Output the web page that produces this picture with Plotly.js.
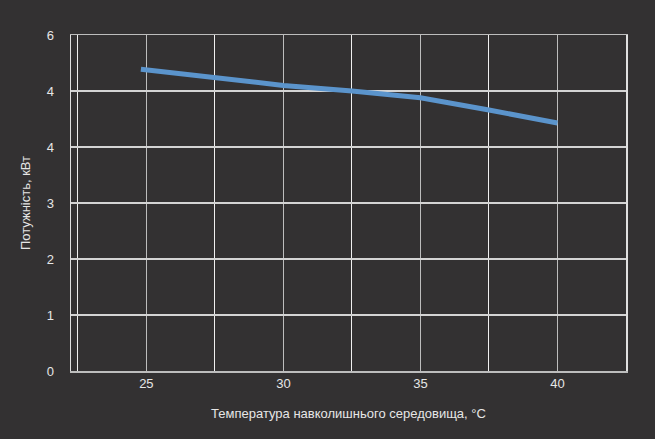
<!DOCTYPE html>
<html>
<head>
<meta charset="utf-8">
<script src="https://cdn.plot.ly/plotly-3.0.1.min.js"></script>
<style>
  html, body { margin: 0; padding: 0; background: #333132; }
  #chart { width: 655px; height: 439px; }
</style>
</head>
<body>
<div id="chart"></div>
<script>
'use strict';

// ambient temperature, °C
const temps = [24.8, 27.5, 30, 32.5, 35, 37.5, 40];
// power, kW
const power = [5.39, 5.24, 5.10, 5.00, 4.88, 4.66, 4.43];

const yTicks = [0, 1, 2, 3, 4, 5, 6];
const yLabels = ['0', '1', '2', '3', '4', '4', '6'];

const textColor = '#e6e6e6';
const font = { family: 'Liberation Sans, Arial, sans-serif', size: 13, color: textColor };

const trace = {
	x: temps,
	y: power,
	type: 'scatter',
	mode: 'lines',
	line: { color: '#5b94cc', width: 5 },
	hoverinfo: 'x+y'
};

const layout = {
	width: 655,
	height: 439,
	paper_bgcolor: '#333132',
	plot_bgcolor: '#333132',
	font: font,
	showlegend: false,
	margin: { l: 71, r: 29, t: 35, b: 68 },
	xaxis: {
		range: [22.25, 42.5],
		tick0: 25,
		dtick: 5,
		ticks: '',
		showgrid: true,
		gridcolor: '#bdbdbd',
		gridwidth: 1.5,
		minor: { dtick: 2.5, tick0: 25, showgrid: true, gridcolor: '#f0f0f0', gridwidth: 1 },
		showline: true,
		mirror: true,
		linecolor: '#bdbdbd',
		linewidth: 1.5,
		zeroline: false,
		tickfont: font,
		title: { text: 'Температура навколишнього середовища, °C', font: font, standoff: 19 }
	},
	yaxis: {
		range: [0, 6],
		tickvals: yTicks,
		ticktext: yLabels,
		ticks: 'outside',
		ticklen: 13,
		tickcolor: 'rgba(0,0,0,0)',
		showgrid: true,
		gridcolor: '#d4d4d4',
		gridwidth: 1.5,
		showline: true,
		mirror: true,
		linecolor: '#e0e0e0',
		linewidth: 1.5,
		zeroline: true,
		zerolinecolor: '#f4f4f4',
		zerolinewidth: 2,
		tickfont: font,
		title: { text: 'Потужність, кВт', font: font, standoff: 13 }
	}
};

Plotly.newPlot('chart', [trace], layout, { displayModeBar: false, staticPlot: true });
</script>
</body>
</html>
